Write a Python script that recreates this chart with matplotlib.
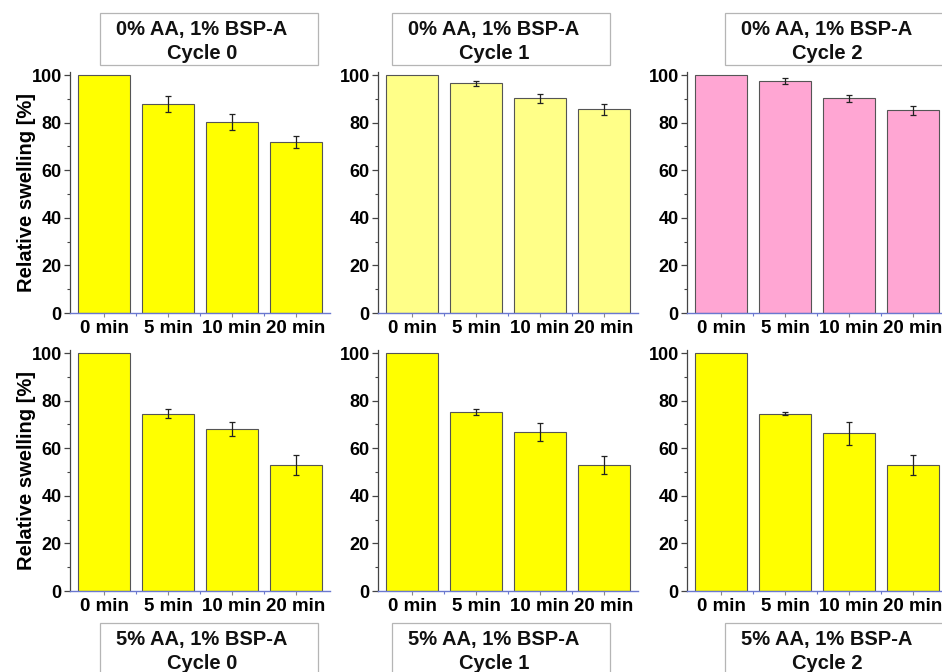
import matplotlib
matplotlib.use("Agg")
import matplotlib.pyplot as plt
from matplotlib.patches import Rectangle
import numpy as np

plt.rcParams['font.family'] = ['Liberation Sans', 'DejaVu Sans']
plt.rcParams['font.weight'] = 'bold'

times = ["0 min", "5 min", "10 min", "20 min"]

# Relative swelling [%] and standard deviations
aa0_cycle0 = [100.0, 87.8, 80.3, 72.0]
aa0_cycle0_err = [0.0, 3.2, 3.5, 2.5]
aa0_cycle1 = [100.0, 96.6, 90.2, 85.6]
aa0_cycle1_err = [0.0, 1.1, 1.9, 2.4]
aa0_cycle2 = [100.0, 97.4, 90.2, 85.2]
aa0_cycle2_err = [0.0, 1.2, 1.6, 2.0]

aa5_cycle0 = [100.0, 74.6, 68.1, 52.9]
aa5_cycle0_err = [0.0, 2.0, 3.1, 4.1]
aa5_cycle1 = [100.0, 75.2, 66.9, 52.9]
aa5_cycle1_err = [0.0, 1.3, 3.8, 3.9]
aa5_cycle2 = [100.0, 74.5, 66.2, 52.8]
aa5_cycle2_err = [0.0, 0.6, 4.9, 4.2]

titles_top = ["0% AA, 1% BSP-A\nCycle 0", "0% AA, 1% BSP-A\nCycle 1", "0% AA, 1% BSP-A\nCycle 2"]
titles_bottom = ["5% AA, 1% BSP-A\nCycle 0", "5% AA, 1% BSP-A\nCycle 1", "5% AA, 1% BSP-A\nCycle 2"]

yellow = "#FFFF00"
light_yellow = "#FFFF88"
pink = "#FFA6D3"

panels = [
    (aa0_cycle0, aa0_cycle0_err, yellow),
    (aa0_cycle1, aa0_cycle1_err, light_yellow),
    (aa0_cycle2, aa0_cycle2_err, pink),
    (aa5_cycle0, aa5_cycle0_err, yellow),
    (aa5_cycle1, aa5_cycle1_err, yellow),
    (aa5_cycle2, aa5_cycle2_err, yellow),
]

W, H = 942, 672
fig = plt.figure(figsize=(W / 100, H / 100), dpi=100)

col_left = [70, 378, 687]
ax_w = 260
row_zero = [313, 591]
ax_h = 241.5

for i, (vals, errs, color) in enumerate(panels):
    r, c = divmod(i, 3)
    left = col_left[c] / W
    bottom = (H - row_zero[r]) / H
    ax = fig.add_axes([left, bottom, ax_w / W, ax_h / H])
    x = np.arange(len(times))
    ax.bar(x, vals, width=0.81, color=color, edgecolor="#555555", linewidth=0.8, zorder=2)
    ax.errorbar(x[1:], vals[1:], yerr=errs[1:], fmt="none", ecolor="#222222",
                elinewidth=0.9, capsize=2.5, capthick=0.9, zorder=3)
    ax.set_xlim(-0.53, 3.53)
    ax.set_ylim(0, 101.5)
    ax.set_xticks(x)
    ax.set_xticklabels(times)
    ax.set_xticks([0.5, 1.5, 2.5], minor=True)
    ax.set_yticks(np.arange(0, 101, 20))
    ax.set_yticks(np.arange(10, 100, 20), minor=True)
    ax.tick_params(axis="y", which="major", direction="out", length=4, width=0.9,
                   color="#444444", labelsize=13, pad=2)
    ax.tick_params(axis="y", which="minor", direction="out", length=2, width=0.8, color="#444444")
    ax.tick_params(axis="x", which="major", direction="out", length=3, width=0.8,
                   color="#888888", labelsize=13.5, pad=2)
    ax.tick_params(axis="x", which="minor", direction="out", length=2, width=0.8, color="#6a78d0")
    for lab in ax.get_xticklabels() + ax.get_yticklabels():
        lab.set_fontweight("bold")
    ax.spines["top"].set_visible(False)
    ax.spines["right"].set_visible(False)
    ax.spines["left"].set_color("#444444")
    ax.spines["left"].set_linewidth(0.9)
    ax.spines["bottom"].set_color("#6a78d0")
    ax.spines["bottom"].set_linewidth(1.0)
    ax.patch.set_alpha(0)
    if c == 0:
        ax.set_ylabel("Relative swelling [%]", fontsize=14.5, fontweight="bold", labelpad=-3)

# Caption boxes above the top row and below the bottom row
box_left = [100, 392, 725]
box_w = 218
box_h = 52
for c in range(3):
    for top_px, text in ((13, titles_top[c]), (623, titles_bottom[c])):
        x0 = box_left[c] / W
        y0 = (H - top_px - box_h) / H
        rect = Rectangle((x0, y0), box_w / W, box_h / H, transform=fig.transFigure,
                         facecolor="white", edgecolor="#b5b5b5", linewidth=0.9, clip_on=False)
        fig.add_artist(rect)
        fig.text((box_left[c] + box_w / 2 - 7) / W, (H - top_px - box_h / 2 - 2.5) / H, text,
                 ha="center", va="center", fontsize=14.5, fontweight="bold",
                 linespacing=1.35, color="#111111")

fig.savefig("out.png", dpi=100)
